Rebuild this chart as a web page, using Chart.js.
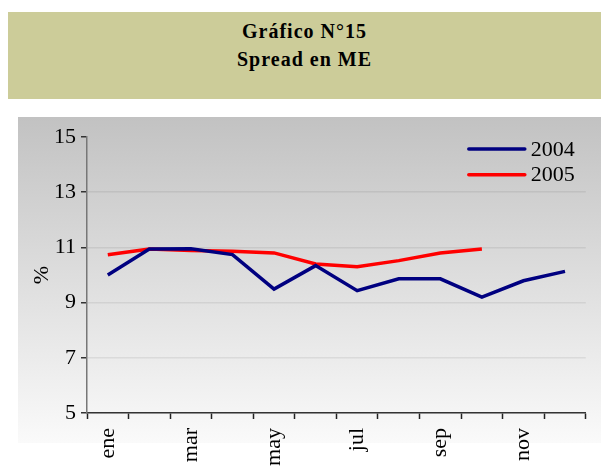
<!DOCTYPE html>
<html>
<head>
<meta charset="utf-8">
<script src="https://cdn.jsdelivr.net/npm/chart.js@4"></script>
<style>
  body { margin: 0; width: 601px; height: 468px; overflow: hidden; background: #fff; position: relative; }
  #head {
    position: absolute; left: 8px; top: 12px; width: 593px; height: 87px;
    background: #cccc99; text-align: center; letter-spacing: 1px;
    font: bold 20px "Liberation Serif", "Times New Roman", serif; color: #000;
  }
  #head div { line-height: 28px; }
  #bg {
    position: absolute; left: 18px; top: 117px; width: 583px; height: 326px;
    background: linear-gradient(#c2c2c2, #fafafa);
  }
  #wrap { position: absolute; left: 17px; top: 117px; width: 584px; height: 351px; }
</style>
</head>
<body>
<div id="head"><div style="margin-top:5px">Gráfico N°15</div><div>Spread en ME</div></div>
<div id="bg"></div>
<div id="wrap"><canvas id="chart"></canvas></div>
<script>
// meses y valores
const meses = ['ene','feb','mar','abr','may','jun','jul','ago','sep','oct','nov','dic'];
const serie2004 = [10.0, 10.94, 10.95, 10.74, 9.49, 10.34, 9.43, 9.86, 9.86, 9.2, 9.79, 10.13];
const serie2005 = [10.73, 10.94, 10.89, 10.86, 10.8, 10.4, 10.3, 10.52, 10.8, 10.94, null, null];
const yTicks = [5, 7, 9, 11, 13, 15];

const fuente = '"Liberation Serif", "Times New Roman", serif';

// leyenda dibujada a mano dentro del área
const leyenda = {
    id: 'leyenda',
    afterDraw(chart) {
        const ctx = chart.ctx, a = chart.chartArea;
        ctx.save();
        chart.data.datasets.forEach((ds, i) => {
            const y = a.top + 12 + i * 25.7;
            ctx.strokeStyle = ds.borderColor;
            ctx.lineWidth = 3.5;
            ctx.lineCap = 'round';
            ctx.beginPath();
            ctx.moveTo(a.right - 117, y);
            ctx.lineTo(a.right - 61, y);
            ctx.stroke();
            ctx.fillStyle = '#000';
            ctx.font = '22px ' + fuente;
            ctx.textBaseline = 'middle';
            ctx.fillText(ds.label, a.right - 55, y + 1);
        });
        ctx.restore();
    }
};

new Chart(document.getElementById('chart'), {
    type: 'line',
    data: {
        labels: meses,
        datasets: [
            { label: '2004', data: serie2004, borderColor: '#000080', borderWidth: 3.5, pointRadius: 0, tension: 0 },
            { label: '2005', data: serie2005, borderColor: '#ff0000', borderWidth: 3.5, pointRadius: 0, tension: 0 }
        ]
    },
    options: {
        responsive: true,
        maintainAspectRatio: false,
        animation: false,
        layout: { padding: { top: 20, right: 14, left: 0, bottom: 0 } },
        plugins: { legend: { display: false }, tooltip: { enabled: false } },
        scales: {
            x: {
                offset: true,
                afterFit(scale) { scale.height = 55; },
                grid: { offset: true, drawOnChartArea: false, tickLength: 6, color: '#222', tickWidth: 1.5 },
                border: { color: '#333', width: 1.5 },
                ticks: {
                    autoSkip: false, maxRotation: 90, minRotation: 90, padding: 9,
                    color: '#000', font: { family: fuente, size: 22 },
                    callback(v, i) { return i % 2 === 0 ? meses[i] : ''; }
                }
            },
            y: {
                min: 5, max: 15,
                afterFit(scale) { scale.width = 70; },
                afterBuildTicks(scale) { scale.ticks = yTicks.map(v => ({ value: v })); },
                title: { display: true, text: '%', color: '#000', font: { family: fuente, size: 22 }, padding: { top: 12, bottom: 0 } },
                grid: {
                    color: ctx => ctx.tick && ctx.tick.value === 15 ? 'rgba(0,0,0,0)' : 'rgba(0,0,0,0.07)',
                    tickColor: '#333', tickLength: 6, lineWidth: 1.5
                },
                border: { color: '#777', width: 1.5 },
                ticks: { padding: 5, color: '#000', font: { family: fuente, size: 22 } }
            }
        }
    },
    plugins: [leyenda]
});
</script>
</body>
</html>
